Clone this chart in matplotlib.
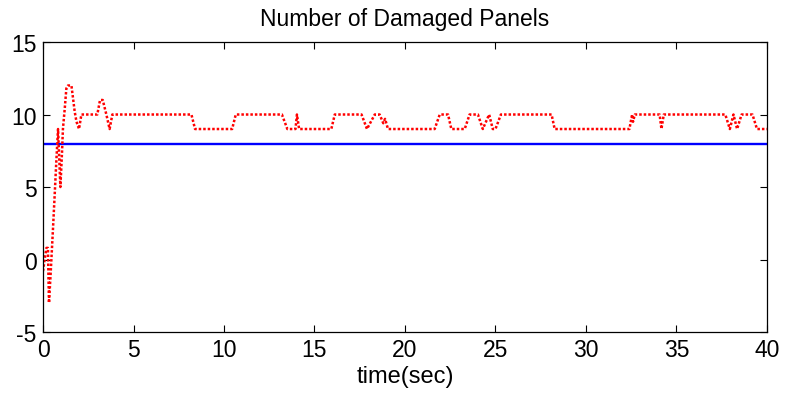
import matplotlib
matplotlib.use("Agg")
import matplotlib.pyplot as plt

plt.rcParams.update({"font.family": ["Liberation Sans", "DejaVu Sans"],
                     "font.size": 14,
                     "axes.unicode_minus": False})

# estimated number of damaged panels (breakpoints of the step response)
est_t = [0.0, 0.09, 0.19, 0.27, 0.33, 0.42, 0.55, 0.65, 0.74, 0.83, 0.96,
         1.05, 1.1, 1.2, 1.29, 1.38, 1.57, 1.66, 1.75, 1.85, 1.99, 2.12,
         3.0, 3.15, 3.3, 3.5, 3.68, 3.83,
         8.2, 8.4, 10.45, 10.65,
         13.2, 13.5, 13.95, 14.03, 14.15, 15.93, 16.12,
         17.6, 17.9, 18.33, 18.6, 18.8, 18.9, 19.06,
         21.64, 21.92, 22.38, 22.56, 23.3, 23.57, 24.03, 24.3,
         24.65, 24.85, 25.0, 25.3,
         28.1, 28.27, 32.4, 32.55, 32.6, 32.7,
         34.07, 34.17, 34.3,
         37.7, 37.95, 38.15, 38.35, 38.6, 39.2, 39.45, 40.0]
est_n = [-0.8, 0.0, 0.8, 0.8, -3.0, -1.0, 2.1, 4.6, 6.9, 9.0, 5.0,
         7.4, 9.0, 10.4, 11.8, 12.0, 12.0, 11.1, 10.2, 9.5, 9.0, 10.0,
         10.0, 11.0, 11.0, 10.0, 9.0, 10.0,
         10.0, 9.0, 9.0, 10.0,
         10.0, 9.0, 9.0, 10.0, 9.0, 9.0, 10.0,
         10.0, 9.0, 10.0, 10.0, 9.4, 9.7, 9.0,
         9.0, 10.0, 10.0, 9.0, 9.0, 10.0, 10.0, 9.0,
         10.0, 9.0, 9.0, 10.0,
         10.0, 9.0, 9.0, 10.0, 9.5, 10.0,
         10.0, 9.0, 10.0,
         10.0, 9.0, 10.0, 9.0, 10.0, 10.0, 9.0, 9.0]

# actual number of damaged panels
true_t = [0.0, 40.0]
true_n = [8.0, 8.0]

fig = plt.figure(figsize=(7.85, 4.02), dpi=100)
ax = fig.add_axes([0.0548, 0.1716, 0.9222, 0.7214])

ax.plot(true_t, true_n, color="#0000ff", lw=1.7)
ax.plot(est_t, est_n, color="#ff0000", lw=1.8, linestyle=(0, (1, 0.8)))

ax.set_xlim(0, 40)
ax.set_ylim(-5, 15)
ax.set_xticks(range(0, 41, 5))
ax.set_yticks(range(-5, 16, 5))
ax.tick_params(direction="in", top=True, right=True, length=5, width=0.8,
               labelsize=16.5, pad=4.5)
for s in ax.spines.values():
    s.set_linewidth(0.9)
ax.set_xlabel("time(sec)", fontsize=17, labelpad=3)
ax.set_title("Number of Damaged Panels", fontsize=16.5, pad=12)

fig.savefig("out.png", dpi=100, facecolor="white")
